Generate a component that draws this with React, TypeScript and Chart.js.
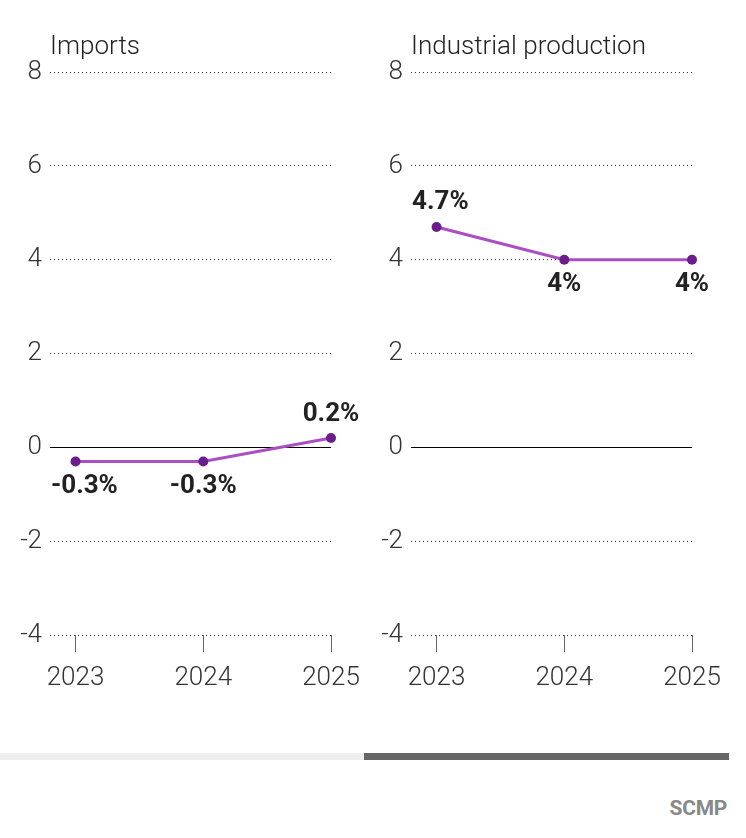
import React, { useEffect, useRef } from "react";
import { Chart, registerables } from "chart.js";

Chart.register(...registerables);

const years = [2023, 2024, 2025];
const importsValues = [-0.3, -0.3, 0.2];
const industrialValues = [4.7, 4, 4];
const yTicks = [8, 6, 4, 2, 0, -2, -4];
const titles = ["Imports", "Industrial production"];

const LINE_COLOR = "#a94fc3";
const POINT_COLOR = "#6a1d8b";
const FONT = "Roboto";

const dataLabelPlugin = {
  id: "dataLabels",
  afterDatasetsDraw(chart: any) {
    const { ctx, chartArea } = chart;
    const meta = chart.getDatasetMeta(0);
    const values: number[] = chart.data.datasets[0].data.map((d: any) => d.y);
    ctx.save();
    ctx.font = `bold 26px ${FONT}`;
    ctx.fillStyle = "#222";
    ctx.textBaseline = "middle";
    ctx.textAlign = "left";
    meta.data.forEach((pt: any, i: number) => {
      const v = values[i];
      const prev = i > 0 ? values[i - 1] : -Infinity;
      const next = i < values.length - 1 ? values[i + 1] : -Infinity;
      const above = v > prev && v > next;
      const text = `${v}%`;
      const w = ctx.measureText(text).width;
      let left = pt.x - w / 2;
      if (left < chartArea.left + 1) left = chartArea.left + 1;
      const y = above ? pt.y - 24 : pt.y + 25;
      ctx.fillText(text, left, y);
    });
    ctx.restore();
  },
};

function Panel({ title, values }: { title: string; values: number[] }) {
  const ref = useRef<HTMLCanvasElement>(null);
  useEffect(() => {
    if (!ref.current) return;
    const chart = new Chart(ref.current, {
      type: "line",
      data: {
        datasets: [
          {
            data: years.map((yr, i) => ({ x: yr, y: values[i] })),
            borderColor: LINE_COLOR,
            borderWidth: 3,
            pointRadius: 5,
            pointBackgroundColor: POINT_COLOR,
            pointBorderColor: POINT_COLOR,
            pointBorderWidth: 0,
            tension: 0,
            clip: false as any,
          },
        ],
      },
      options: {
        animation: false,
        responsive: true,
        maintainAspectRatio: false,
        layout: { padding: { left: 0, right: 30, top: 0, bottom: 0 } },
        plugins: {
          legend: { display: false },
          tooltip: { enabled: false },
          title: {
            display: true,
            text: title,
            align: "start",
            fullSize: false,
            color: "#222",
            font: { family: FONT, size: 26, weight: "300" as any },
            padding: { top: 32, bottom: 9 },
          },
        },
        scales: {
          x: {
            type: "linear",
            min: years[0] - 0.2,
            max: years[years.length - 1],
            afterBuildTicks: (scale: any) => {
              scale.ticks = years.map((v) => ({ value: v }));
            },
            afterFit: (scale: any) => {
              scale.height = 65;
              scale.paddingLeft = 0;
              scale.paddingRight = 0;
            },
            border: { display: false },
            grid: {
              drawOnChartArea: false,
              drawTicks: true,
              tickLength: 17,
              tickColor: "#666",
              tickWidth: 1,
            },
            ticks: {
              padding: 11,
              color: "#333",
              font: { family: FONT, size: 26, weight: "300" as any },
              callback: (v: any) => String(v),
              maxRotation: 0,
            },
          },
          y: {
            min: yTicks[yTicks.length - 1],
            max: yTicks[0],
            afterBuildTicks: (scale: any) => {
              scale.ticks = yTicks.map((v) => ({ value: v }));
            },
            afterFit: (scale: any) => {
              scale.width = 50;
            },
            border: {
              display: false,
              dash: (ctx: any) => (ctx.tick && ctx.tick.value === 0 ? [] : [1, 3]),
            },
            grid: {
              drawTicks: false,
              color: (ctx: any) => (ctx.tick && ctx.tick.value === 0 ? "#000" : "#333"),
              lineWidth: 1,
            },
            ticks: {
              padding: 8,
              color: "#333",
              font: { family: FONT, size: 26, weight: "300" as any },
            },
          },
        },
      },
      plugins: [dataLabelPlugin],
    });
    return () => chart.destroy();
  }, [title, values]);
  return <canvas ref={ref} />;
}

export default function App() {
  return (
    <div
      style={{
        position: "absolute",
        left: 0,
        top: 0,
        width: 746,
        height: 838,
        background: "#fff",
        fontFamily: FONT,
      }}
    >
      <div style={{ position: "absolute", left: 0, top: 0, width: 361, height: 700 }}>
        <Panel title={titles[0]} values={importsValues} />
      </div>
      <div style={{ position: "absolute", left: 361, top: 0, width: 361, height: 700 }}>
        <Panel title={titles[1]} values={industrialValues} />
      </div>
      <div style={{ position: "absolute", left: 0, top: 753, width: 364, height: 7, background: "#eeeeee" }} />
      <div style={{ position: "absolute", left: 364, top: 753, width: 365, height: 7, background: "#666666" }} />
      <div
        style={{
          position: "absolute",
          right: 19,
          top: 796,
          fontFamily: FONT,
          fontWeight: 700,
          fontSize: 21,
          color: "#888",
          letterSpacing: -0.3,
        }}
      >
        SCMP
      </div>
    </div>
  );
}
